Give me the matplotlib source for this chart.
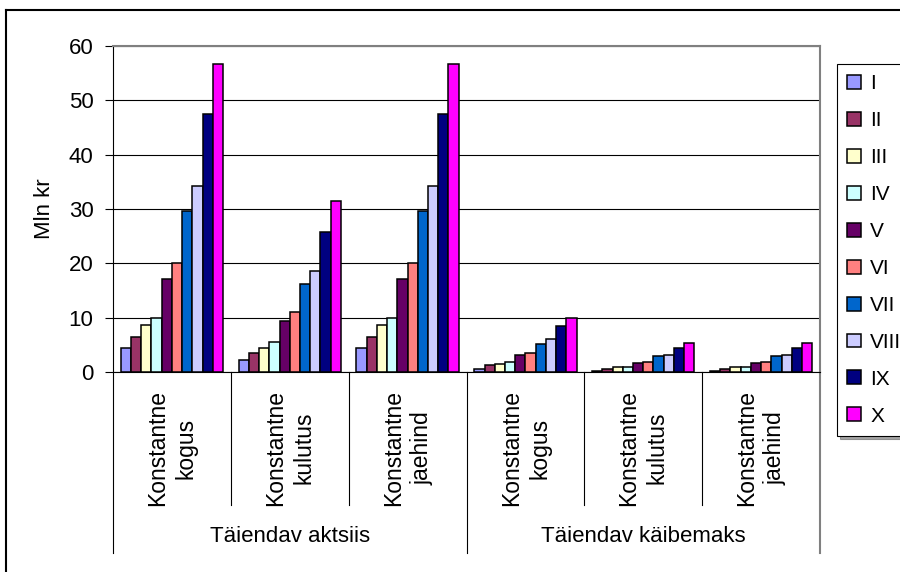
import numpy as np
import matplotlib
matplotlib.use('Agg')
import matplotlib.pyplot as plt
from matplotlib.lines import Line2D

plt.rcParams['font.family'] = ['Liberation Sans', 'DejaVu Sans']

# andmed
groups = ['Täiendav aktsiis', 'Täiendav käibemaks']
subcats = ['Konstantne\nkogus', 'Konstantne\nkulutus', 'Konstantne\njaehind',
           'Konstantne\nkogus', 'Konstantne\nkulutus', 'Konstantne\njaehind']
series = ['I', 'II', 'III', 'IV', 'V', 'VI', 'VII', 'VIII', 'IX', 'X']
colors = ['#9999FF', '#993366', '#FFFFCC', '#CCFFFF', '#660066',
          '#FF8080', '#0066CC', '#CCCCFF', '#000080', '#FF00FF']

akts_kogus   = [4.4, 6.4, 8.7, 10.0, 17.2, 20.1, 29.6, 34.2, 47.5, 56.6]
akts_kulutus = [2.2, 3.5, 4.4, 5.5, 9.3, 11.0, 16.2, 18.5, 25.7, 31.5]
akts_jaehind = [4.4, 6.4, 8.7, 10.0, 17.2, 20.1, 29.6, 34.2, 47.5, 56.6]
kaib_kogus   = [0.55, 1.2, 1.5, 1.9, 3.2, 3.5, 5.1, 6.0, 8.4, 9.9]
kaib_kulutus = [0.25, 0.55, 0.9, 0.9, 1.6, 1.9, 2.9, 3.2, 4.5, 5.4]
kaib_jaehind = [0.25, 0.55, 0.9, 0.9, 1.6, 1.9, 2.9, 3.2, 4.5, 5.4]

data = np.array([akts_kogus, akts_kulutus, akts_jaehind,
                 kaib_kogus, kaib_kulutus, kaib_jaehind])

fig = plt.figure(figsize=(9, 5.72), dpi=100)
ax = fig.add_axes((113/900, 1-372/572, 707/900, 326/572))

x = np.arange(len(subcats))
w = 0.868/len(series)
for i, s in enumerate(series):
    ax.bar(x - 0.434 + w*(i+0.5), data[:, i], w, color=colors[i],
           edgecolor='black', linewidth=1.1, label=s, zorder=3)

ax.set_xlim(-0.5, 5.5)
ax.set_ylim(0, 60)
ax.set_yticks(np.arange(0, 61, 10))
ax.tick_params(axis='y', labelsize=16, length=6, width=0.8, pad=8, direction='out')
ax.set_xticks([])
ax.yaxis.grid(True, color='black', linewidth=0.8, zorder=0)
for sp in ['top', 'right']:
    ax.spines[sp].set_color('#808080')
    ax.spines[sp].set_linewidth(1.5)
ax.spines['left'].set_linewidth(0.8)
ax.spines['bottom'].set_linewidth(0.8)

# kategooriate sildid
tr = ax.get_xaxis_transform()
for xi, lab in zip(x, subcats):
    ax.text(xi, -0.233, lab, transform=tr, rotation=90, ha='center', va='center',
            fontsize=16.5, multialignment='center', linespacing=1.3)
for sx in [0.5, 1.5, 3.5, 4.5]:
    ax.add_line(Line2D([sx, sx], [0, -0.408], transform=tr, color='black',
                       linewidth=0.8, clip_on=False))
for sx, c in zip([-0.5, 2.5, 5.5], ['black', 'black', '#808080']):
    ax.add_line(Line2D([sx, sx], [0, -0.555], transform=tr, color=c,
                       linewidth=0.8 if c == 'black' else 1.5, clip_on=False))
for gi, g in enumerate(groups):
    ax.text(1 + 3*gi, -0.506, g, transform=tr, ha='center', va='center', fontsize=16)

fig.text(45/900, 1-209/572, 'Mln kr', rotation=90, ha='center', va='center', fontsize=16)

leg = ax.legend(loc='upper left', bbox_to_anchor=(837/900, 1-64/572),
                bbox_transform=fig.transFigure, borderaxespad=0, fontsize=15,
                frameon=True, fancybox=False, shadow=True, edgecolor='black',
                handlelength=0.65, handleheight=0.65, handletextpad=0.45,
                labelspacing=0.86, borderpad=0.5)
leg.get_frame().set_linewidth(0.8)

# raam
fig.add_artist(Line2D([5.7/900, 5.7/900], [0, 1-10/572], color='black', linewidth=1.5))
fig.add_artist(Line2D([5.7/900, 1], [1-10/572, 1-10/572], color='black', linewidth=1.5))

plt.savefig('out.png', dpi=100)
